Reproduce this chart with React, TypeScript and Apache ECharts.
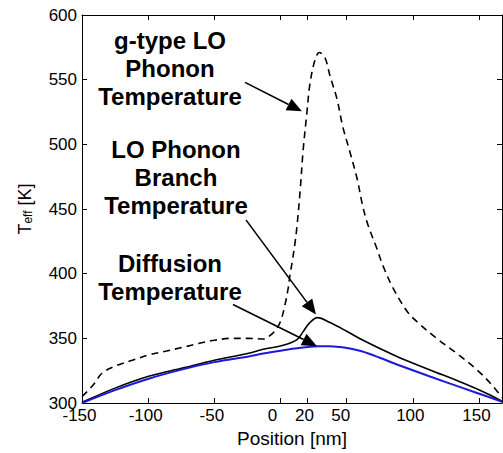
import React, { useEffect, useRef } from "react";
import * as echarts from "echarts";

const xTicks = [-150, -100, -50, 0, 20, 50, 100, 150];

const gTypeX = [-150, -145, -140, -135, -125, -112, -100, -87, -74, -62, -50, -37, -24, -12, -8, -4, 0, 3.4, 5.7, 7.2, 9, 11, 12.5, 15, 17, 20, 22.3, 26, 29.3, 33.6, 37.4, 42.7, 47, 52.5, 58, 62, 66, 73, 77.5, 85, 95.6, 103, 118, 133, 148.5, 160.6, 167.4];
const gTypeY = [305, 310, 316, 323, 328.5, 333, 337, 340, 343, 346, 348.5, 350, 350, 349.5, 352, 356, 363, 376, 388, 399, 410, 424, 437, 466, 494, 525, 547, 565, 571, 567, 553, 535, 514, 494, 473, 453, 438, 419, 406, 389, 371, 363, 350, 338.5, 325.6, 313, 304];

const branchX = [-150, -125, -99, -74, -50, -24, -13, 2, 12.5, 17, 22, 28, 37, 50, 62, 88, 113, 138, 158, 167.4];
const branchY = [300.5, 311.5, 320.8, 327, 333, 338.5, 341.5, 344.6, 349, 355, 362, 366, 362.4, 355.5, 348.7, 336, 325.6, 315.4, 306.4, 301.3];

const diffX = [-150, -125, -99, -74, -50, -24, -13, 2, 12.5, 28, 37, 45, 52.5, 62, 75, 88, 113, 138, 158, 167.4];
const diffY = [300, 310, 319, 326, 331.6, 336, 338.2, 340.7, 342.3, 343.8, 343.9, 343.3, 342.2, 339.8, 335, 329.8, 320.5, 311.5, 304.4, 301];

const labelTexts = ["g-type LO\nPhonon\nTemperature", "LO Phonon\nBranch\nTemperature", "Diffusion\nTemperature"];
const labelAnchors = [[-83.5, 558.7], [-79, 474], [-83.5, 397]];
const arrowStarts = [[-26.8, 547.9], [-26.1, 441.6], [-35.9, 376.2]];
const arrowTips = [[16.2, 525.6], [26.8, 368.5], [27.6, 343.9]];

const FONT = "'Liberation Sans', Arial, Helvetica, sans-serif";

const zip = (xs: number[], ys: number[]) => xs.map((x, i) => [x, ys[i]]);

export default function App() {
  const ref = useRef<HTMLDivElement>(null);
  useEffect(() => {
    if (!ref.current) return;
    const chart = echarts.init(ref.current, null, { renderer: "svg" });
    const axisCommon = {
      type: "value" as const,
      axisLine: { show: true, onZero: false, lineStyle: { color: "#000", width: 1 } },
      splitLine: { show: false },
    };
    chart.setOption({
      animation: false,
      backgroundColor: "#fff",
      grid: { left: 82, right: 1, top: 15, bottom: 48, containLabel: false },
      xAxis: [
        {
          ...axisCommon,
          position: "bottom",
          min: -150,
          max: 167.4,
          axisTick: { inside: true, length: 5, customValues: xTicks, lineStyle: { color: "#000" } },
          axisLabel: {
            customValues: xTicks,
            color: "#000",
            fontSize: 17,
            fontFamily: FONT,
            margin: 4,
            formatter: (v: number) => (v === 0 ? "{a|0}" : v === 50 ? "{b|50}" : "{c|" + v + "}"),
            rich: {
              a: { fontSize: 17, fontFamily: FONT, color: "#000", padding: [0, 16, 0, 0] },
              b: { fontSize: 17, fontFamily: FONT, color: "#000", padding: [0, 12, 0, 0] },
              c: { fontSize: 17, fontFamily: FONT, color: "#000", padding: [0, 5, 0, 0] },
            },
          },
          name: "Position [nm]",
          nameLocation: "middle",
          nameGap: 26,
          nameTextStyle: { color: "#000", fontSize: 19, fontFamily: FONT },
        },
        {
          ...axisCommon,
          position: "top",
          min: -150,
          max: 167.4,
          axisTick: { inside: true, length: 5, customValues: xTicks, lineStyle: { color: "#000" } },
          axisLabel: { show: false },
        },
      ],
      yAxis: [
        {
          ...axisCommon,
          position: "left",
          min: 300,
          max: 600,
          interval: 50,
          axisTick: { inside: true, length: 5, lineStyle: { color: "#000" } },
          axisLabel: { color: "#000", fontSize: 17, fontFamily: FONT, margin: 5 },
          name: "T{s|eff} [K]",
          nameLocation: "middle",
          nameGap: 48,
          nameTextStyle: {
            color: "#000",
            fontSize: 18,
            fontFamily: FONT,
            rich: {
              s: { fontSize: 12, fontFamily: FONT, color: "#000", padding: [7, 0, 0, 0] },
            },
          },
        },
        {
          ...axisCommon,
          position: "right",
          min: 300,
          max: 600,
          interval: 50,
          axisTick: { inside: true, length: 5, lineStyle: { color: "#000" } },
          axisLabel: { show: false },
        },
      ],
      series: [
        {
          type: "line",
          data: zip(gTypeX, gTypeY),
          showSymbol: false,
          smooth: 0.35,
          lineStyle: { color: "#000", width: 1.6, type: [7, 5] },
        },
        {
          type: "line",
          data: zip(branchX, branchY),
          showSymbol: false,
          smooth: 0.35,
          lineStyle: { color: "#000", width: 1.6 },
        },
        {
          type: "line",
          data: zip(diffX, diffY),
          showSymbol: false,
          smooth: 0.35,
          lineStyle: { color: "#1a1ad8", width: 2 },
        },
      ],
    });

    const toPx = (p: number[]) => chart.convertToPixel({ xAxisIndex: 0, yAxisIndex: 0 }, p) as number[];
    const graphics: any[] = [];
    labelTexts.forEach((t, i) => {
      const [px, py] = toPx(labelAnchors[i]);
      graphics.push({
        type: "text",
        x: px,
        y: py,
        style: {
          text: t,
          fill: "#000",
          font: `bold 24px ${FONT}`,
          align: "center",
          verticalAlign: "middle",
          lineHeight: 28,
        },
        z: 10,
      });
    });
    arrowStarts.forEach((s, i) => {
      const [x1, y1] = toPx(s);
      const [x2, y2] = toPx(arrowTips[i]);
      const dx = x2 - x1, dy = y2 - y1;
      const len = Math.hypot(dx, dy);
      const ux = dx / len, uy = dy / len;
      const L = 15, W = 6.5;
      const bx = x2 - ux * L, by = y2 - uy * L;
      graphics.push({
        type: "line",
        shape: { x1, y1, x2: bx, y2: by },
        style: { stroke: "#000", lineWidth: 1.6 },
        z: 10,
      });
      graphics.push({
        type: "polygon",
        shape: { points: [[x2, y2], [bx - uy * W, by + ux * W], [bx + uy * W, by - ux * W]] },
        style: { fill: "#000" },
        z: 10,
      });
    });
    chart.setOption({ graphic: graphics });
    return () => chart.dispose();
  }, []);
  return (
    <div
      ref={ref}
      style={{ position: "fixed", left: 0, top: 0, width: 503, height: 453, background: "#fff" }}
    />
  );
}
